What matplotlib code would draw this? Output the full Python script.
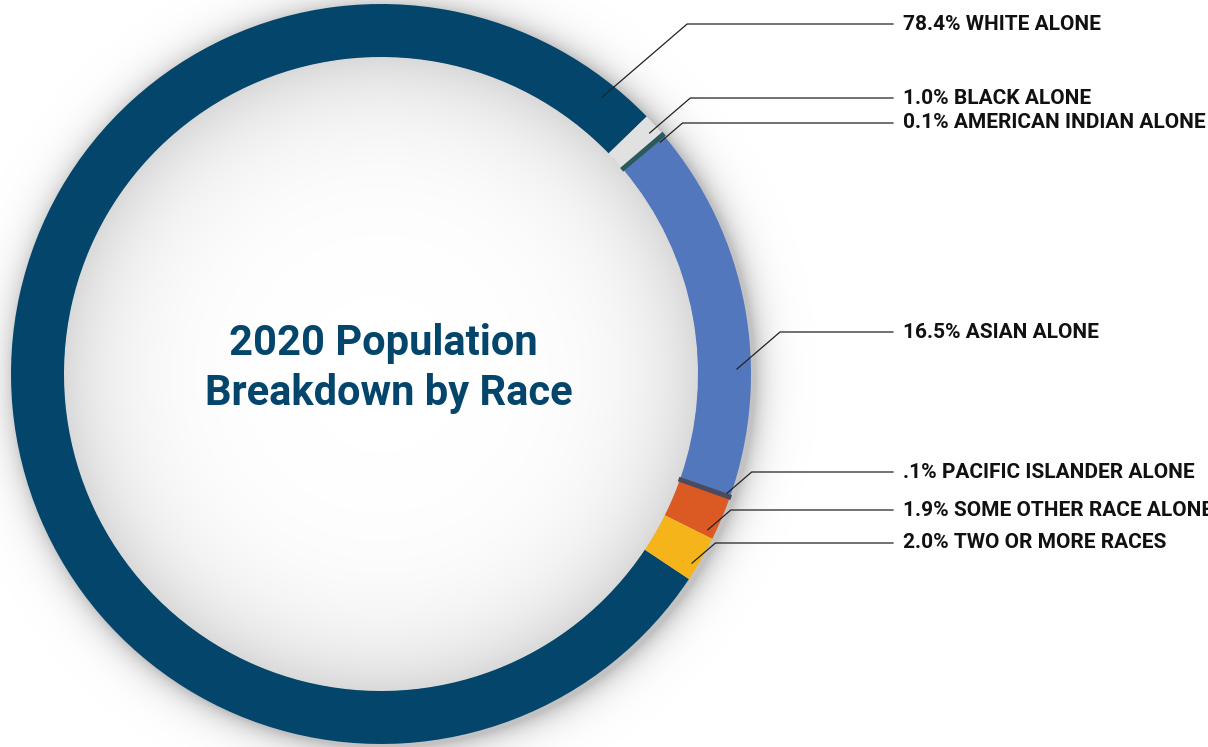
import numpy as np
import matplotlib.pyplot as plt

# 2020 population by race (percent)
groups = ['WHITE ALONE', 'BLACK ALONE', 'AMERICAN INDIAN ALONE', 'ASIAN ALONE',
          'PACIFIC ISLANDER ALONE', 'SOME OTHER RACE ALONE', 'TWO OR MORE RACES']
shares = [78.4, 1.0, 0.1, 16.5, 0.1, 1.9, 2.0]
share_text = ['78.4%', '1.0%', '0.1%', '16.5%', '.1%', '1.9%', '2.0%']
colors = ['#04466b', '#e1e1e1', '#2b5a5c', '#5377bd', '#4b4a5e', '#db5a24', '#f5b51a']

W, H = 1208, 747
cx, cy = 381, 374          # ring centre in pixel coordinates (y down)
r_out, r_in = 370, 317

# leader layout: anchor angle (deg clockwise from top), anchor radius, label row
lead_ang = [38.6, 48.1, 50.3, 89.2, 109.0, 115.5, 121.3]
lead_rad = [354, 361, 363, 356, 366, 362, 364]
label_y = [24, 98, 123, 332, 472, 510, 543]
line_end = 893
text_x = 903

plt.rcParams['font.family'] = ['Roboto', 'DejaVu Sans']
fig = plt.figure(figsize=(W / 100, H / 100), dpi=100)
ax = fig.add_axes([0, 0, 1, 1])

# soft shadow inside the ring and a drop shadow outside it
yy, xx = np.mgrid[0:H, 0:W] + 0.5
r_c = np.hypot(xx - cx, yy - cy)
r_s = np.hypot(xx - (cx + 4), yy - (cy + 3))
dark = np.where(r_c < r_in, 0.15 * np.exp(-(r_in - r_c) / 55), 0.0)
outer = 0.24 * np.exp(-np.clip(r_s - r_out, 0, None) / 13)
dark = np.where(r_c >= r_in, np.maximum(dark, outer), dark)
shade = np.round(255 * (1 - dark)).astype(np.uint8)
ax.imshow(np.dstack([shade] * 3), extent=(0, W, 0, H), origin='upper',
          interpolation='bilinear', zorder=0)

start = 90 - (45.9 - shares[0] * 3.6 + 360)
wedges, _ = ax.pie(shares, colors=colors, startangle=start, counterclock=False,
                   radius=r_out, center=(cx, H - cy),
                   wedgeprops=dict(width=r_out - r_in, linewidth=0))
for w, v, c in zip(wedges, shares, colors):
    w.set_zorder(2)
    if v < 0.5:
        # keep the tiny slices visible
        w.set_edgecolor(c)
        w.set_linewidth(2)
        w.set_zorder(3)

for ang, rad, ly, pct, name in zip(lead_ang, lead_rad, label_y, share_text, groups):
    a = np.deg2rad(ang)
    ax_ = cx + rad * np.sin(a)
    ay_ = cy - rad * np.cos(a)
    ex = ax_ + (ay_ - ly) / 0.86
    ax.plot([ax_, ex, line_end], [H - ay_, H - ly, H - ly], color='#222222',
            lw=0.9, solid_joinstyle='miter', zorder=4)
    ax.text(text_x, H - ly, f'{pct} {name}', fontsize=15, fontweight='bold',
            color='#111111', ha='left', va='center', zorder=5)

ax.text(383, H - 343, '2020 Population', fontsize=30, fontweight='bold',
        color='#04466b', ha='center', va='center', zorder=5)
ax.text(389, H - 393, 'Breakdown by Race', fontsize=30, fontweight='bold',
        color='#04466b', ha='center', va='center', zorder=5)

ax.set_xlim(0, W)
ax.set_ylim(0, H)
ax.set_aspect('equal')
ax.axis('off')
fig.savefig('out.png', dpi=100)
